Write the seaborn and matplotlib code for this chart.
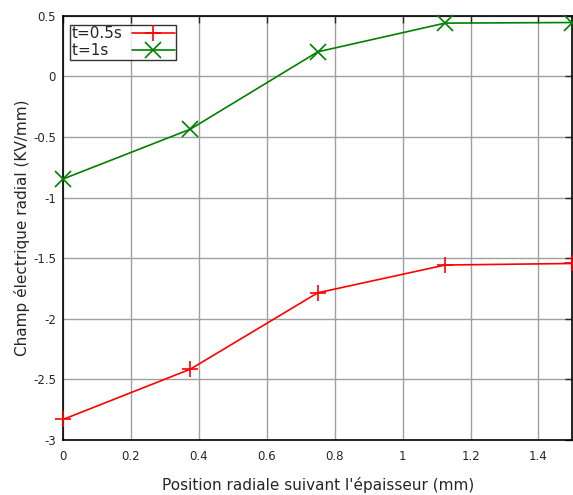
import matplotlib
matplotlib.use("Agg")
import matplotlib.pyplot as plt
import seaborn as sns
import pandas as pd
from matplotlib.ticker import FormatStrFormatter, MultipleLocator

# Data
positions = [0.0, 0.375, 0.75, 1.125, 1.5]
field_t05 = [-2.83, -2.415, -1.785, -1.556, -1.543]
field_t1 = [-0.846, -0.435, 0.203, 0.44, 0.445]
labels = ["t=0.5s", "t=1s"]
colors = {labels[0]: "#ff0000", labels[1]: "#008000"}

df = pd.DataFrame({
    "x": positions * 2,
    "y": field_t05 + field_t1,
    "serie": [labels[0]] * len(positions) + [labels[1]] * len(positions),
})

sns.set_style("white")
plt.rcParams["font.family"] = ["DejaVu Sans"]
plt.rcParams["axes.unicode_minus"] = False

fig = plt.figure(figsize=(5.73, 4.95), dpi=100)
ax = fig.add_axes([0.110, 0.111, 0.889, 0.857])

sns.lineplot(data=df, x="x", y="y", hue="serie", style="serie",
             palette=colors, markers={labels[0]: "+", labels[1]: "x"},
             dashes=False, markersize=12, markeredgewidth=1.2,
             linewidth=1.2, ax=ax, legend=False)
# seaborn paints marker edges white; give them the line colour
for ln in ax.lines:
    ln.set_markeredgecolor(ln.get_color())
    ln.set_clip_on(False)
    ln.set_zorder(3)

ax.set_xlim(0, 1.5)
ax.set_ylim(-3, 0.5)
ax.xaxis.set_major_locator(MultipleLocator(0.2))
ax.yaxis.set_major_locator(MultipleLocator(0.5))
ax.xaxis.set_major_formatter(FormatStrFormatter("%g"))
ax.yaxis.set_major_formatter(FormatStrFormatter("%g"))
ax.grid(True, color="#a0a0a0", linewidth=1)
ax.tick_params(direction="in", length=5, width=1, labelsize=8.5,
               top=True, right=True, pad=7)
ax.tick_params(axis="y", pad=5)
for s in ax.spines.values():
    s.set_color("black")
    s.set_linewidth(1.2)

ax.set_xlabel("Position radiale suivant l'épaisseur (mm)", fontsize=11, labelpad=10)
ax.set_ylabel("Champ électrique radial (KV/mm)", fontsize=11, labelpad=2)

# legend like gnuplot: text left, sample right
handles = [plt.Line2D([], [], color=colors[labels[0]], marker="+", markersize=12,
                      markeredgewidth=1.2, linewidth=1.2),
           plt.Line2D([], [], color=colors[labels[1]], marker="x", markersize=12,
                      markeredgewidth=1.2, linewidth=1.2)]
leg_text = [labels[0], labels[1] + "\u2007\u2008"]
leg = ax.legend(handles, leg_text, loc="upper left", bbox_to_anchor=(0.005, 0.99),
                fontsize=11, frameon=True, fancybox=False, edgecolor="black",
                handlelength=2.8, handletextpad=0.6, borderpad=0.1,
                labelspacing=0.15, markerfirst=False, borderaxespad=0.3)
leg.get_frame().set_linewidth(1)
leg.set_zorder(5)

fig.savefig("out.png", dpi=100)
